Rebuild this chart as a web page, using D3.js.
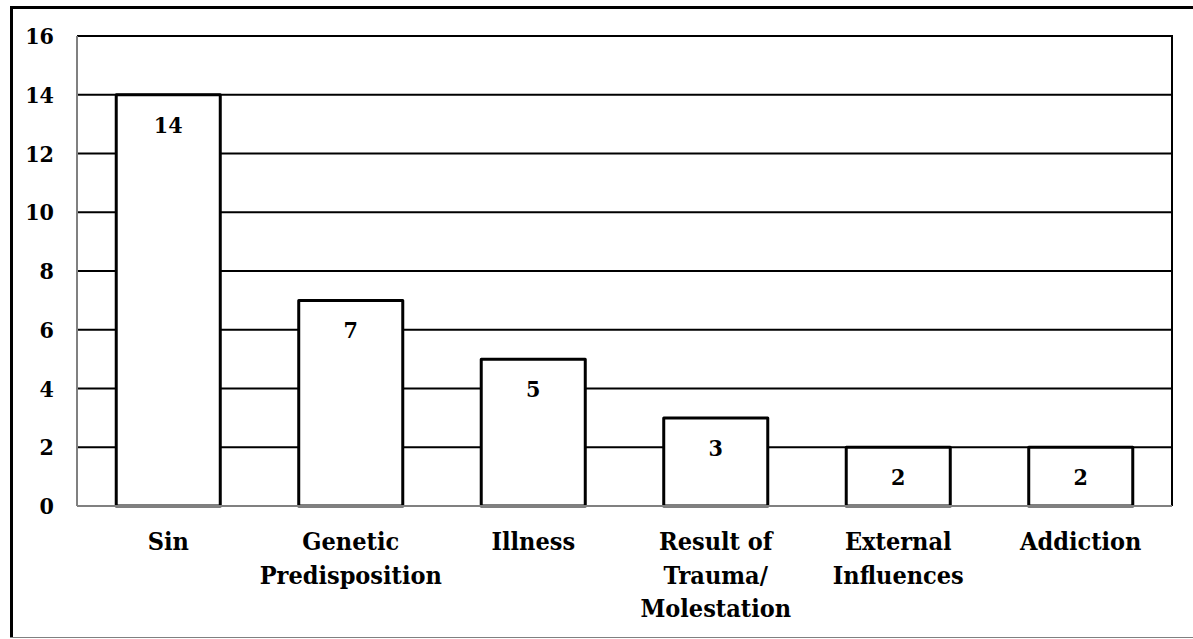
<!DOCTYPE html>
<html>
<head>
<meta charset="utf-8">
<script src="https://cdn.jsdelivr.net/npm/d3@7/dist/d3.min.js"></script>
<style>
html,body{margin:0;padding:0;background:#fff;}
svg{display:block;}
</style>
</head>
<body>
<svg id="chart" width="1193" height="639"></svg>
<script>
const categories = ["Sin", "Genetic\nPredisposition", "Illness", "Result of\nTrauma/\nMolestation", "External\nInfluences", "Addiction"];
const values = [14, 7, 5, 3, 2, 2];
const yTicks = [0, 2, 4, 6, 8, 10, 12, 14, 16];

(function () {
const FONT = "'DejaVu Serif Condensed', 'DejaVu Serif', serif";
const svg = d3.select("#chart");
const pLeft = 77, pRight = 1172, pTop = 36, pBottom = 506;

// outer frame
svg.append("line").attr("x1", 11.5).attr("x2", 11.5).attr("y1", 6).attr("y2", 638).attr("stroke", "#000").attr("stroke-width", 3);
svg.append("line").attr("x1", 10).attr("x2", 1193).attr("y1", 7.5).attr("y2", 7.5).attr("stroke", "#000").attr("stroke-width", 3);
svg.append("line").attr("x1", 10).attr("x2", 1193).attr("y1", 637.5).attr("y2", 637.5).attr("stroke", "#808080").attr("stroke-width", 1);

const x = d3.scaleBand().domain(categories).range([pLeft, pRight]).paddingInner(0.43).paddingOuter(0.215);
const y = d3.scaleLinear().domain([0, 16]).range([pBottom, pTop]);

// gridlines
svg.append("g").selectAll("line").data(yTicks.filter(d => d > 0)).join("line")
  .attr("x1", pLeft).attr("x2", pRight)
  .attr("y1", d => y(d)).attr("y2", d => y(d))
  .attr("stroke", "#000").attr("stroke-width", 2);

// right border
svg.append("line").attr("x1", pRight).attr("x2", pRight).attr("y1", pTop - 1).attr("y2", pBottom)
  .attr("stroke", "#000").attr("stroke-width", 2);

// bars
svg.append("g").selectAll("rect").data(values).join("rect")
  .attr("x", (d, i) => x(categories[i]))
  .attr("y", d => y(d))
  .attr("width", x.bandwidth())
  .attr("height", d => y(0) - y(d))
  .attr("fill", "#fff").attr("stroke", "#000").attr("stroke-width", 3)
  .attr("stroke-linejoin", "round");

// axis lines (gray)
svg.append("line").attr("x1", pLeft).attr("x2", pLeft).attr("y1", pTop).attr("y2", pBottom)
  .attr("stroke", "#808080").attr("stroke-width", 2);
svg.append("line").attr("x1", pLeft).attr("x2", pRight).attr("y1", pBottom).attr("y2", pBottom)
  .attr("stroke", "#808080").attr("stroke-width", 2);

const txt = sel => sel.attr("font-family", FONT).attr("font-weight", "bold")
  .attr("font-stretch", "condensed").attr("fill", "#000");

// y tick labels
svg.append("g").selectAll("text").data(yTicks).join("text")
  .call(txt)
  .attr("x", 54).attr("y", d => y(d) + 8)
  .attr("text-anchor", "end").attr("font-size", 23)
  .text(d => d);

// value labels
svg.append("g").selectAll("text").data(values).join("text")
  .call(txt)
  .attr("x", (d, i) => x(categories[i]) + x.bandwidth() / 2)
  .attr("y", d => y(d) + 38)
  .attr("text-anchor", "middle").attr("font-size", 23)
  .text(d => d);

// category labels
const cat = svg.append("g").selectAll("text").data(categories).join("text")
  .call(txt)
  .attr("text-anchor", "middle").attr("font-size", 25);
cat.each(function (d) {
  const t = d3.select(this);
  const cx = x(d) + x.bandwidth() / 2;
  d.split("\n").forEach((line, i) => {
    t.append("tspan").attr("x", cx).attr("y", pBottom + 44 + i * 33.5).text(line);
  });
});
})();
</script>
</body>
</html>
